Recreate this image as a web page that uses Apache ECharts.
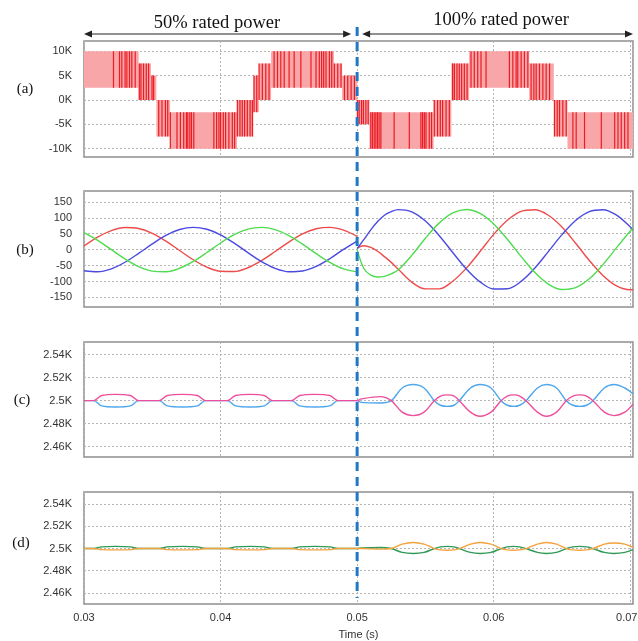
<!DOCTYPE html>
<html><head><meta charset="utf-8">
<script src="https://cdn.jsdelivr.net/npm/echarts@6/dist/echarts.min.js"></script>
<style>html,body{margin:0;padding:0;background:#fff}#c{width:638px;height:641px}</style>
</head><body><div id="c"></div>
<script>
// ---------- Panel (a): multilevel PWM voltage (band segments + switching edges) ----------
const aSegStart = [0.0300,0.0340,0.0349,0.0353,0.0363,0.0412,0.0424,0.0428,0.0437,0.0483,0.0489, 0.0500,0.0509,0.0556,0.0569,0.0582,0.0626,0.0644,0.0654];
const aSegEnd   = [0.0340,0.0349,0.0353,0.0363,0.0412,0.0424,0.0428,0.0437,0.0483,0.0489,0.0500, 0.0509,0.0556,0.0569,0.0582,0.0626,0.0644,0.0654,0.0702];
const aSegLo    = [2500,0,0,-7500,-10000,-7500,-2500,0,2500,2500,0, -5000,-10000,-7500,0,2500,0,-7500,-10000];
const aSegHi    = [10000,7500,5000,0,-2500,0,5000,7500,10000,7500,5000, 0,-2500,0,7500,10000,7500,0,-2500];
const aEdgeT = [
 0.03216,0.0326,0.03277,0.03301,0.03314,0.03333,0.0335,0.03375,
 0.03405,0.03417,0.03436,0.03456,0.03473,0.03498,0.0351,
 0.03547,0.03571,0.03596,0.03613,
 0.03632,0.03681,0.03706,0.0373,0.0375,0.0376,0.03775,0.03787,0.03804,0.03951,0.03971,0.03988,0.0400,0.0402,0.04037,0.04061,0.04086,0.04103,
 0.04123,0.04142,0.04159,0.04176,0.04196,0.04216,0.04233,0.04245,0.04265,
 0.04282,0.04306,0.04331,0.04355,
 0.04392,0.04417,0.04441,0.04466,0.04502,0.04539,0.04588,0.04662,0.04699,0.04723,0.0474,0.04755,0.04772,0.04797,0.04814,
 0.04833,0.04858,0.04882,0.04907,0.04931,0.04956,0.0498,
 0.05002,0.05015,0.05032,0.05046,0.05064,0.05081,
 0.051,0.05112,0.05125,0.05137,0.05149,0.05161,0.05174,0.05271,0.05382,0.05467,0.05479,0.05492,0.05504,0.05528,0.05545,
 0.05565,0.05589,0.05609,0.05626,0.05651,0.05675,
 0.05699,0.05712,0.05731,0.05748,0.05765,0.05785,0.05805,
 0.05834,0.05858,0.05883,0.05907,0.05944,0.06115,0.0614,0.06164,0.06176,0.06201,0.06225,0.0625,
 0.06274,0.06294,0.06311,0.06335,0.0636,0.06384,0.06409,
 0.06445,0.06465,0.06482,0.06506,0.06531,
 0.0658,0.06604,0.06665,0.06788,0.06886,0.0691,0.06934,0.06959,0.06983
];

// ---------- Panel (b): three phase currents ----------
const bTimeL = [0.030,0.031,0.032,0.033,0.034,0.035,0.036,0.037,0.038,0.039,0.040,0.041,0.042,0.043,0.044,0.045,0.046,0.047,0.048,0.049,0.050];
const bRedL   = [11.6,39.4,59.9,69.6,66.5,51.2,26.7,-2.8,-31.8,-54.9,-68.0,-68.7,-56.8,-34.5,-5.9,23.8,49.2,65.5,69.8,61.4,41.7];
const bBlueL  = [-66.4,-69.6,-60.1,-39.6,-11.8,18.0,44.7,63.1,70.0,64.1,46.5,20.4,-9.5,-37.6,-58.8,-69.3,-67.1,-52.6,-28.6,0.7,27];
const bGreenL = [53.2,29.3,0.1,-29.1,-53.1,-67.3,-69.2,-58.5,-37.1,-8.9,20.9,46.9,64.3,70.0,62.8,44.2,17.4,-12.4,-40.0,-60.4,-69.7];
const bTimeR = [0.050,0.0505,0.051,0.0515,0.052,0.0525,0.053,0.054,0.055,0.056,0.057,0.058,0.059,0.060,0.061,0.062,0.063,0.064,0.065,0.066,0.067,0.068,0.069,0.070,0.0702];
const bRedR   = [5,12,7,-5,-22,-40,-61,-102,-123,-123,-99,-58,-6,48,92,120,125,108,71,20,-34,-81,-114,-126,-125];
const bBlueR  = [3,32,62,88,108,119,125.5,118.6,89.8,44.6,-8.8,-60.7,-101.3,-123.4,-122.7,-99.7,-58.2,-6.2,47,91.7,119.4,125.3,108.1,71.2,61.9];
const bGreenR = [0,-60,-80,-86,-84,-76,-64,-18,35.8,83.2,115.1,126,113.8,80.6,32.6,-21.3,-71.2,-108.2,-125.3,-119.4,-91.6,-47,6.4,58.4,67.9];

// ---------- Panel (c): capacitor voltages, upper arm ----------
const cTime = [0.0300,0.0307,0.0313,0.0323,0.0334,0.0340,0.0355,0.0361,0.0372,0.0383,0.0389,0.0405,0.0411,0.0422,0.0432,0.0438,0.0452,0.0458,0.0469,0.0480,0.0486,0.0500,
  0.0503,0.0517,0.0525,0.0533,0.0541,0.0549,0.05565,0.0561,0.0566,0.0571,0.05748,0.0583,0.0590,0.0598,0.06054,0.0610,0.06145,0.0619,0.06237,0.0632,0.06385,0.0646,0.06531,0.0658,0.0663,0.0668,0.06727,0.0681,0.0688,0.0696,0.0702];
const cPink = [2500,2500,2504.5,2505.5,2504.5,2500,2500,2504.5,2505.5,2504.5,2500,2500,2504.5,2505.5,2504.5,2500,2500,2504.5,2505.5,2504.5,2500,2500,
  2501.5,2503.5,2500,2490,2487,2490,2500,2504,2505,2504,2500,2490,2486.5,2490,2500,2504,2505,2504,2500,2490,2486.5,2490,2500,2504,2505,2504,2500,2490,2487,2490,2497];
const cBlue = [2500,2500,2495.5,2494.5,2495.5,2500,2500,2495.5,2494.5,2495.5,2500,2500,2495.5,2494.5,2495.5,2500,2500,2495.5,2494.5,2495.5,2500,2500,
  2498.5,2498,2500,2511,2514,2511,2500,2496,2495,2496,2500,2511,2514,2511,2500,2496,2495,2496,2500,2511,2514,2511,2500,2496,2495,2496,2500,2511,2514,2511,2506];

// ---------- Panel (d): capacitor voltages, lower arm ----------
const dTime = cTime;
const dGreen = [2500,2500,2501.5,2502,2501.5,2500,2500,2501.5,2502,2501.5,2500,2500,2501.5,2502,2501.5,2500,2500,2501.5,2502,2501.5,2500,2500,
  2500.5,2501,2500,2496.5,2495.5,2496.5,2500,2501.5,2502,2501.5,2500,2496.5,2495.5,2496.5,2500,2501.5,2502,2501.5,2500,2496.5,2495.5,2496.5,2500,2501.5,2502,2501.5,2500,2496.5,2495.5,2496.5,2499];
const dOrange = [2500,2500,2499,2498.8,2499,2500,2500,2499,2498.8,2499,2500,2500,2499,2498.8,2499,2500,2500,2499,2498.8,2499,2500,2500,
  2500,2499.5,2500,2504,2505.5,2504,2500,2498.8,2498.5,2498.8,2500,2504,2505.5,2504,2500,2498.8,2498.5,2498.8,2500,2504,2505.5,2504,2500,2498.8,2498.5,2498.8,2500,2504,2505,2504,2501];

// ---------- axis tick values ----------
const xTicks = [0.03,0.04,0.05,0.06,0.07];
const aTicks = [-10000,-5000,0,5000,10000];
const bTicks = [-150,-100,-50,0,50,100,150];
const cTicks = [2460,2480,2500,2520,2540];
const dTicks = [2460,2480,2500,2520,2540];

// ---------- build ----------
const zip = (t, v) => t.map((x, i) => [x, v[i]]);
const segData = aSegStart.map((s, i) => [s, aSegEnd[i], aSegLo[i], aSegHi[i]]);
function segOf(t){ for (let i = 0; i < aSegStart.length; i++) if (t >= aSegStart[i] && t < aSegEnd[i]) return i; return aSegStart.length - 1; }
const edgeData = aEdgeT.map(t => { const k = segOf(t); return [t, aSegLo[k], aSegHi[k]]; });

const FONT = 'Liberation Sans';
const gridLine = { show: true, lineStyle: { color: '#b5b5b5', type: [2, 2], width: 1 } };
const grids = [
  { left: 84, right: 5, top: 41, height: 116 },
  { left: 84, right: 5, top: 191, height: 116 },
  { left: 84, right: 5, top: 342, height: 115 },
  { left: 84, right: 5, top: 492, height: 112 }
].map(g => Object.assign(g, { show: true, borderColor: '#8e8e8e', borderWidth: 1.5, containLabel: false, outerBoundsMode: 'none' }));

const lastX = xTicks[xTicks.length - 1];
const xAxes = [0,1,2,3].map(i => ({
  type: 'value', gridIndex: i, min: 0.03, max: 0.0702, interval: 0.01,
  axisLine: { show: false }, axisTick: { show: false }, splitLine: gridLine,
  axisLabel: { show: i === 3, color: '#333', fontFamily: FONT, fontSize: 11, margin: 8,
    formatter: v => Math.abs(v - lastX) < 1e-9 ? '{r|' + v.toFixed(2) + '}' : v.toFixed(2),
    rich: { r: { color: '#333', fontFamily: FONT, fontSize: 11, padding: [0, 7, 0, 0] } },
    customValues: xTicks },
  name: i === 3 ? 'Time (s)' : '', nameLocation: 'middle', nameGap: 25,
  nameTextStyle: { color: '#333', fontFamily: FONT, fontSize: 11 }
}));
function yAx(i, min, max, ticks, fmt){
  return { type: 'value', gridIndex: i, min, max,
    axisLine: { show: false }, axisTick: { show: false, customValues: ticks }, splitLine: gridLine,
    axisLabel: { color: '#333', fontFamily: FONT, fontSize: 11, margin: 12, customValues: ticks, formatter: fmt } };
}
const yAxes = [
  yAx(0, -11700, 12100, aTicks, v => (v / 1000) + 'K'),
  yAx(1, -180, 184, bTicks, v => String(v)),
  yAx(2, 2451, 2551, cTicks, v => +(v / 1000).toFixed(2) + 'K'),
  yAx(3, 2450, 2551, dTicks, v => +(v / 1000).toFixed(2) + 'K')
];

function lineS(idx, data, color, w){
  return { type: 'line', xAxisIndex: idx, yAxisIndex: idx, data, showSymbol: false, smooth: 0.35,
    lineStyle: { color, width: w || 1.4 }, silent: true, z: 3 };
}

const series = [
  { type: 'custom', xAxisIndex: 0, yAxisIndex: 0, data: segData, encode: { x: [0, 1], y: [2, 3] }, silent: true,
    renderItem(params, api){
      const p0 = api.coord([api.value(0), api.value(3)]);
      const p1 = api.coord([api.value(1), api.value(2)]);
      return { type: 'rect', shape: { x: p0[0], y: p0[1], width: p1[0] - p0[0], height: p1[1] - p0[1] }, style: { fill: '#f9a6a8' } };
    } },
  { type: 'custom', xAxisIndex: 0, yAxisIndex: 0, data: edgeData, encode: { x: 0, y: [1, 2] }, silent: true, z: 3,
    renderItem(params, api){
      const p0 = api.coord([api.value(0), api.value(1)]);
      const p1 = api.coord([api.value(0), api.value(2)]);
      return { type: 'line', shape: { x1: p0[0], y1: p0[1], x2: p1[0], y2: p1[1] }, style: { stroke: '#ea1c24', lineWidth: 1.2 } };
    } },
  lineS(1, zip(bTimeL, bRedL), '#ee4b4b'),
  lineS(1, zip(bTimeL, bBlueL), '#4a4ae0'),
  lineS(1, zip(bTimeL, bGreenL), '#4fdc4f'),
  lineS(1, zip(bTimeR, bRedR), '#ee4b4b'),
  lineS(1, zip(bTimeR, bBlueR), '#4a4ae0'),
  lineS(1, zip(bTimeR, bGreenR), '#4fdc4f'),
  lineS(2, zip(cTime, cBlue), '#4da6ee'),
  lineS(2, zip(cTime, cPink), '#ee4f9c'),
  lineS(3, zip(dTime, dGreen), '#2f9a55'),
  lineS(3, zip(dTime, dOrange), '#f4a13c')
];

const chart = echarts.init(document.getElementById('c'), null, { renderer: 'canvas' });
chart.setOption({ animation: false, backgroundColor: '#fff', grid: grids, xAxis: xAxes, yAxis: yAxes, series });

// overlay: header, arrows, panel letters, dashed switching instant line
const xSwitch = chart.convertToPixel({ xAxisIndex: 0 }, 0.05);
const xL = chart.convertToPixel({ xAxisIndex: 0 }, 0.03);
const xR = 633;
const yArrow = 34;
function arrow(x1, x2){
  return [
    { type: 'line', shape: { x1: x1 + 4, y1: yArrow, x2: x2 - 4, y2: yArrow }, style: { stroke: '#222', lineWidth: 1 } },
    { type: 'polygon', shape: { points: [[x1, yArrow], [x1 + 8, yArrow - 3.5], [x1 + 8, yArrow + 3.5]] }, style: { fill: '#222' } },
    { type: 'polygon', shape: { points: [[x2, yArrow], [x2 - 8, yArrow - 3.5], [x2 - 8, yArrow + 3.5]] }, style: { fill: '#222' } }
  ];
}
const serif = 'Liberation Serif';
const letter = (t, x, y) => ({ type: 'text', x, y, style: { text: t, font: '15px "' + serif + '"', fill: '#111', align: 'center', verticalAlign: 'middle' } });
chart.setOption({ graphic: [
  { type: 'text', x: 217, y: 23, style: { text: '50% rated power', font: '18.5px "' + serif + '"', fill: '#111', align: 'center', verticalAlign: 'middle' } },
  { type: 'text', x: 501, y: 20, style: { text: '100% rated power', font: '18.5px "' + serif + '"', fill: '#111', align: 'center', verticalAlign: 'middle' } },
  ...arrow(xL, xSwitch - 6),
  ...arrow(xSwitch + 5, xR),
  letter('(a)', 25, 89), letter('(b)', 25, 250), letter('(c)', 22, 400), letter('(d)', 21, 543),
  { type: 'line', z: 100, shape: { x1: xSwitch, y1: 27, x2: xSwitch, y2: 598 }, style: { stroke: '#1f78c6', lineWidth: 3, lineDash: [9, 6] } }
] });
</script></body></html>
